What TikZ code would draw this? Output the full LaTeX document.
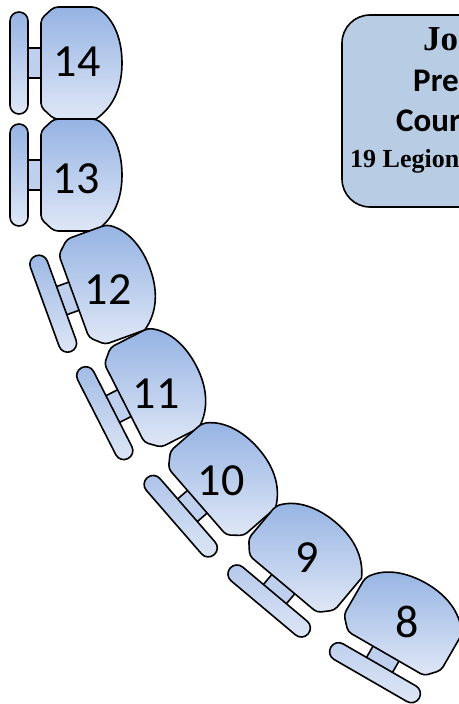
\documentclass[tikz,border=0pt]{standalone}
\usepackage{fontspec}
\usepackage{tikz}
\setmainfont{Liberation Serif}
\newfontfamily\calibrilike{Carlito}
\definecolor{seattop}{HTML}{95B3E3}
\definecolor{seatbottom}{HTML}{DFE7F6}
\definecolor{boardfill}{HTML}{B8CCE4}

\tikzset{
  seatline/.style={draw=black, line width=1.6pt, top color=seattop, bottom color=seatbottom},
  seatnum/.style={font=\calibrilike\fontsize{46}{46}\selectfont, inner sep=0pt, text=black},
  serifline/.style={font=\bfseries\rmfamily\fontsize{35}{35}\selectfont, anchor=base west, inner sep=0pt},
  sansline/.style={font=\bfseries\calibrilike\fontsize{33}{33}\selectfont, anchor=base west, inner sep=0pt},
  seat/.pic={
    \path[fill=seattop!45!seatbottom] (-54,15) rectangle (-38,-15);
    \draw[line width=1.6pt] (-54,15) -- (-40,15) (-54,-15) -- (-40,-15);
    \path[seatline, top color=seattop!#1!seatbottom, rounded corners=8.9pt] (-71,51) rectangle (-53,-51);
    \path[seatline] (-40,34)
      [rounded corners=4pt] -- (-40,44) -- (-27,56) -- (15,56) [sharp corners]
      .. controls (34,43) and (41,22) .. (41,0)
      .. controls (41,-22) and (34,-43) .. (15,-56)
      [rounded corners=4pt] -- (-27,-56) -- (-40,-44) -- (-40,-34) [sharp corners] -- cycle;
  }
}

\begin{document}
\begin{tikzpicture}[x=1pt, y=1pt]
  \useasboundingbox (0,0) rectangle (458,-704);

  \pic[rotate=0] (s14) at (81,-63) {seat=100};
  \pic[rotate=0] (s13) at (81,-175) {seat=100};
  \pic[rotate=20] (s12) at (111.5,-282.5) {seat=92};
  \pic[rotate=27] (s11) at (160,-385) {seat=85};
  \pic[rotate=41] (s10) at (227.5,-475.5) {seat=70};
  \pic[rotate=50] (s9) at (309,-553.5) {seat=60};
  \pic[rotate=60] (s8) at (406,-619) {seat=45};

  \node[seatnum] (n14) at (77,-62) {14};
  \node[seatnum] (n13) at (76,-179) {13};
  \node[seatnum] (n12) at (108,-290) {12};
  \node[seatnum] (n11) at (156,-394) {11};
  \node[seatnum] (n10) at (221,-481) {10};
  \node[seatnum] (n9) at (307,-558) {9};
  \node[seatnum] (n8) at (407,-622) {8};

  % board runs off the right edge
  \path[draw=black, line width=1.6pt, fill=boardfill, rounded corners=28pt] (342,-15) rectangle (520,-207);
  \node[serifline] (jo) at (423,-50) {Jo};
  \node[sansline] (pre) at (413,-91) {Pre};
  \node[sansline] (cour) at (396,-131) {Cour};
  \node[serifline, font=\bfseries\rmfamily\fontsize{26}{26}\selectfont] (legion) at (350,-167) {19 Legion};
\end{tikzpicture}
\end{document}
